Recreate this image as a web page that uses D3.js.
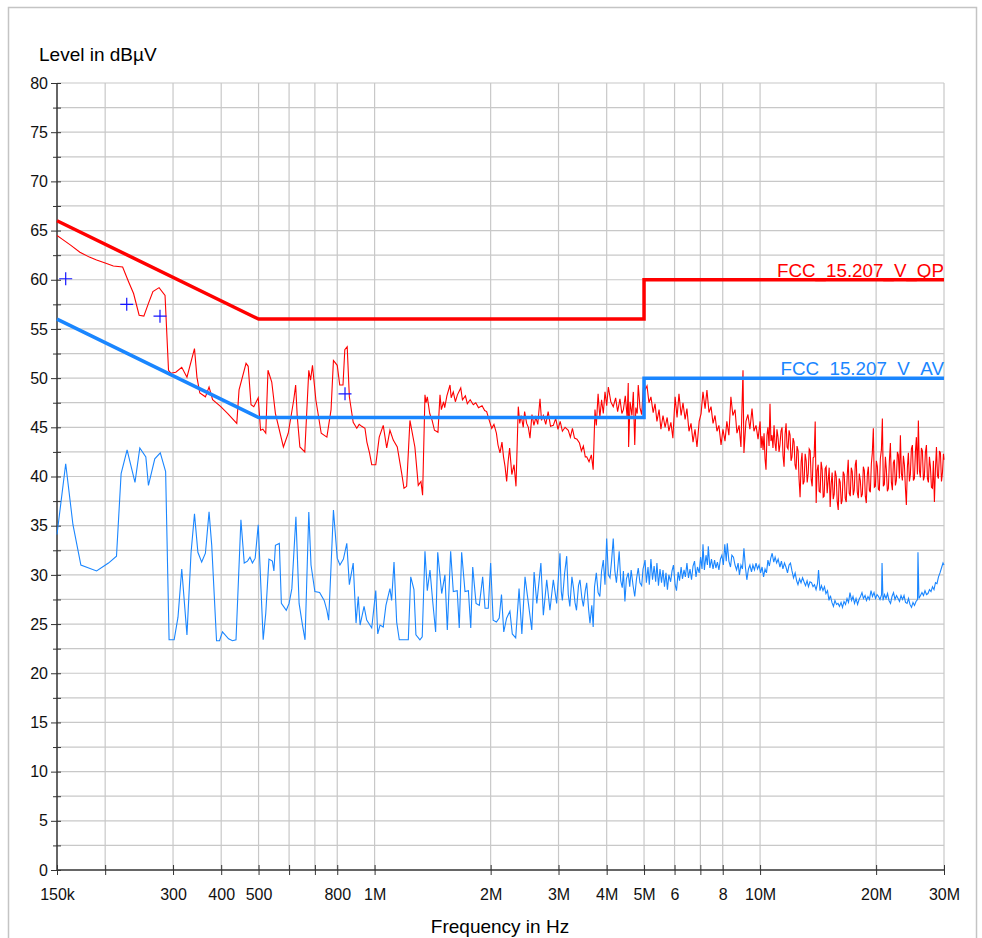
<!DOCTYPE html>
<html>
<head>
<meta charset="utf-8">
<script src="https://cdn.jsdelivr.net/npm/d3@7/dist/d3.min.js"></script>
<style>
body { margin: 0; background: #fff; }
svg { font-family: "Liberation Sans", Arial, sans-serif; }
.grid line { stroke: #c8c8c8; stroke-width: 1.2; }
.axis path, .axis line { stroke: #333; }
.axis text { font-size: 16px; fill: #111; }
</style>
</head>
<body>
<script>
// frequency axis (MHz)
var freqTicks = [0.15, 0.2, 0.3, 0.4, 0.5, 0.6, 0.7, 0.8, 1, 2, 3, 4, 5, 6, 7, 8, 10, 20, 30];
var freqLabels = ["150k", "", "300", "400", "500", "", "", "800", "1M", "2M", "3M", "4M", "5M", "6", "", "8", "10M", "20M", "30M"];
var levelTicks = [0, 5, 10, 15, 20, 25, 30, 35, 40, 45, 50, 55, 60, 65, 70, 75, 80];
var levelMinor = [2.5, 7.5, 12.5, 17.5, 22.5, 27.5, 32.5, 37.5, 42.5, 47.5, 52.5, 57.5, 62.5, 67.5, 72.5, 77.5];

// limit lines [MHz, dBuV]
var qpLimit = [[0.15, 66], [0.5, 56], [5, 56], [5, 60], [30, 60]];
var avLimit = [[0.15, 56], [0.5, 46], [5, 46], [5, 50], [30, 50]];

// final QP measurements
var qpFinal = [[0.158, 60.1], [0.2275, 57.5], [0.2775, 56.3], [0.838, 48.4]];

// quasi-peak preview trace
var qpTrace = [
[0.150,64.5],[0.155,64.1],[0.163,63.5],[0.172,62.8],[0.182,62.3],[0.190,62.0],[0.200,61.7],[0.210,61.4],[0.222,61.3],[0.230,59.8],[0.237,58.6],[0.245,56.4],[0.252,56.3],[0.259,57.6],[0.266,58.8],[0.276,59.2],[0.286,58.4],
[0.292,50.8],[0.296,50.5],[0.305,50.6],[0.316,51.1],[0.326,50.1],[0.341,53.0],[0.346,50.1],[0.352,48.5],[0.364,48.1],[0.372,49.1],[0.380,47.8],[0.399,47.1],[0.416,46.4],[0.439,45.4],[0.445,48.8],[0.464,51.5],[0.470,51.2],[0.478,47.3],[0.486,47.1],[0.499,48.0],[0.506,44.7],[0.513,44.8],[0.522,44.4],[0.529,50.8],[0.541,49.6],[0.553,46.4],[0.580,43.0],[0.597,44.4],[0.617,47.8],[0.624,49.3],[0.630,46.1],[0.640,43.0],[0.659,42.5],[0.675,50.8],[0.682,49.8],[0.690,51.3],[0.704,47.8],[0.727,44.4],[0.752,44.0],[0.771,46.8],[0.782,51.8],[0.800,51.3],[0.812,49.3],[0.828,49.3],[0.837,52.9],[0.849,53.2],[0.860,48.1],[0.880,45.5],[0.899,44.9],[0.912,45.3],[0.926,45.1],[0.944,44.9],[0.955,43.5],[0.970,42.4],[0.983,41.2],
[1.007,41.2],[1.028,44.0],[1.053,45.2],[1.075,42.9],[1.096,44.7],[1.118,43.7],[1.145,43.0],[1.176,40.3],[1.192,38.8],[1.211,39.0],[1.235,45.7],[1.272,43.0],[1.298,39.1],[1.319,39.5],[1.332,38.1],
[1.351,48.3],[1.36,47.5],[1.37,48.1],[1.39,46.4],[1.41,45.7],[1.43,44.7],[1.46,44.5],[1.478,48.3],[1.49,46.8],[1.51,47.6],[1.52,47.0],[1.54,48.2],[1.569,49.3],[1.58,48.0],[1.60,48.6],[1.62,47.6],[1.64,48.3],[1.673,49.0],[1.69,47.8],[1.72,48.2],[1.74,47.4],[1.77,47.8],[1.803,47.3],[1.83,47.5],[1.86,47.0],[1.90,47.2],[1.93,46.7],[1.953,46.6],[1.98,45.8],
[2.013,44.9],[2.04,45.3],[2.07,44.4],[2.09,43.2],[2.115,42.4],[2.14,43.5],[2.16,42.0],[2.18,41.0],[2.201,39.5],[2.22,41.5],[2.24,42.9],[2.27,40.2],[2.30,41.2],[2.327,39.0],[2.359,47.1],[2.38,45.4],[2.40,46.2],[2.43,45.0],[2.45,46.6],[2.48,45.4],[2.505,45.0],[2.53,43.9],[2.56,46.3],[2.59,45.2],[2.62,46.0],[2.65,45.3],[2.686,47.9],[2.71,45.7],[2.74,46.2],[2.78,45.3],[2.82,46.6],[2.86,45.1],[2.908,45.2],[2.95,45.9],[2.99,44.8],
[3.03,45.6],[3.07,44.6],[3.12,45.0],[3.18,44.7],[3.22,44.0],[3.26,44.9],[3.30,43.9],[3.35,43.8],[3.40,43.4],[3.44,42.6],[3.48,43.1],[3.52,42.0],[3.55,42.0],[3.60,41.5],[3.65,42.2],[3.69,40.7],[3.73,46.8],[3.76,45.2],[3.80,48.4],[3.84,46.0],[3.88,47.8],[3.92,46.4],[3.96,48.6],
[4.00,47.2],[4.04,49.1],[4.10,47.6],[4.16,47.1],[4.22,48.0],[4.27,46.6],[4.33,47.9],[4.38,46.4],[4.42,46.8],[4.47,48.2],[4.52,46.0],[4.55,49.5],[4.56,43.0],[4.60,47.6],[4.65,46.2],[4.69,48.6],[4.73,43.2],[4.76,47.0],[4.80,46.4],[4.83,49.3],[4.88,47.0],[4.93,46.3],[4.97,48.5],[5.00,49.8],
[5.03,48.8],[5.09,49.2],[5.15,47.5],[5.21,48.1],[5.28,46.5],[5.34,47.4],[5.40,45.6],[5.47,46.8],[5.53,44.8],[5.60,46.2],[5.67,45.0],[5.74,46.0],[5.80,44.6],[5.87,45.5],[5.94,43.9],
[6.02,48.1],[6.09,46.0],[6.16,48.4],[6.24,46.2],[6.31,47.5],[6.39,45.8],[6.46,46.9],[6.54,44.6],[6.62,45.4],[6.70,43.5],[6.78,44.8],[6.86,43.0],[6.95,45.6],
[7.03,46.4],[7.11,48.6],[7.20,46.9],[7.28,48.8],[7.37,46.5],[7.46,47.1],[7.55,45.4],[7.64,46.2],[7.73,44.6],[7.82,45.2],[7.92,43.2],
[8.01,44.8],[8.11,43.6],[8.20,45.6],[8.30,44.2],[8.40,48.1],[8.50,46.2],[8.61,46.8],[8.71,44.4],[8.82,45.2],[8.92,43.0],
[9.03,50.8],[9.08,42.4],[9.19,45.6],[9.30,46.3],[9.41,44.8],[9.53,46.9],[9.64,44.6],[9.76,45.2],[9.88,43.8],
[10.00,45.6],[10.06,42.9],[10.12,44.1],[10.18,42.7],[10.24,44.4],[10.30,41.8],[10.36,40.7],[10.42,44.2],[10.48,45.0],[10.55,43.1],[10.61,47.4],[10.67,43.6],[10.74,44.2],[10.80,42.9],[10.87,45.2],[10.93,43.4],[11.00,42.6],[11.06,44.8],[11.13,44.0],[11.20,42.5],
[11.26,43.2],[11.33,44.6],[11.40,45.0],[11.47,42.1],[11.54,41.0],[11.61,44.3],[11.68,45.4],[11.75,43.0],[11.82,42.8],[11.89,44.7],[11.96,44.2],[12.03,41.6],[12.10,42.0],[12.18,43.9],[12.25,43.5],[12.32,41.2],[12.40,40.7],[12.47,43.1],[12.55,42.6],[12.62,39.8],
[12.70,37.9],[12.78,41.5],[12.85,42.4],[12.93,39.2],[13.01,39.5],[13.09,42.3],[13.17,41.6],[13.25,39.4],[13.33,40.3],[13.41,42.8],[13.49,42.6],[13.57,39.7],[13.65,39.0],[13.73,41.9],[13.81,42.0],[13.90,45.6],[13.98,37.3],[14.06,40.6],[14.15,41.2],[14.23,38.5],
[14.32,38.4],[14.40,41.5],[14.49,40.7],[14.58,37.9],[14.66,38.0],[14.75,40.8],[14.84,41.0],[14.93,38.3],[15.02,39.6],[15.11,40.9],[15.20,36.9],[15.29,39.2],[15.38,40.4],[15.48,37.7],[15.57,38.2],[15.66,40.6],[15.76,40.0],[15.85,37.5],[15.95,36.6],[16.04,39.8],
[16.14,39.4],[16.24,37.2],[16.33,37.6],[16.43,40.5],[16.53,40.2],[16.63,37.8],[16.73,37.4],[16.83,40.1],[16.93,41.7],[17.03,38.3],[17.14,38.0],[17.24,40.9],[17.34,40.5],[17.45,38.1],[17.55,38.6],[17.66,41.2],[17.76,41.7],[17.87,38.4],[17.98,37.8],[18.09,40.3],
[18.20,39.6],[18.31,37.9],[18.42,38.2],[18.53,41.0],[18.64,40.6],[18.75,38.0],[18.86,37.3],[18.98,40.2],[19.09,41.0],[19.21,38.6],[19.32,38.4],[19.44,41.3],[19.55,42.4],[19.67,44.9],[19.79,38.9],[19.91,39.0],[20.03,41.6],[20.15,41.0],[20.27,38.7],[20.39,38.6],
[20.51,41.8],[20.64,42.7],[20.76,45.9],[20.88,39.0],[21.01,39.2],[21.14,42.0],[21.26,40.7],[21.39,38.5],[21.52,38.8],[21.65,41.6],[21.78,43.4],[21.91,39.4],[22.04,38.6],[22.17,41.4],[22.30,41.7],[22.44,39.1],[22.57,39.6],[22.71,42.5],[22.84,42.2],[22.98,39.8],
[23.12,44.2],[23.26,40.3],[23.40,39.6],[23.54,42.1],[23.68,41.2],[23.82,38.9],[23.96,37.1],[24.11,41.0],[24.25,42.4],[24.40,39.5],[24.54,40.2],[24.69,42.8],[24.84,43.2],[24.99,39.6],[25.14,39.8],[25.29,42.5],[25.44,44.0],[25.59,40.2],[25.74,45.7],[25.90,40.6],
[26.05,39.9],[26.21,42.9],[26.37,42.6],[26.53,39.6],[26.68,40.0],[26.84,42.4],[27.01,43.2],[27.17,39.8],[27.33,39.4],[27.50,42.0],[27.66,41.0],[27.83,38.9],[28.00,38.8],[28.16,41.6],[28.33,37.4],[28.50,40.7],[28.68,43.0],[28.85,40.1],[29.02,39.8],[29.20,42.6],
[29.37,42.4],[29.55,39.5],[29.73,40.4],[29.90,42.3],[30.0,41.7]
];

// average preview trace
var avTrace = [
[0.150,34.1],[0.158,41.3],[0.165,35.1],[0.173,31.0],[0.190,30.4],[0.204,31.2],[0.214,31.9],[0.220,40.3],[0.228,42.7],[0.239,39.4],[0.246,42.9],[0.255,42.0],[0.259,39.1],[0.269,41.8],[0.278,42.4],[0.287,40.5],
[0.293,23.4],[0.302,23.4],[0.309,25.7],[0.316,30.6],[0.326,23.9],[0.334,32.2],[0.341,36.2],[0.348,32.3],[0.356,31.3],[0.364,32.2],[0.372,36.4],[0.378,33.0],[0.389,23.3],[0.396,23.3],[0.403,24.2],[0.418,23.5],[0.428,23.3],[0.437,23.4],[0.450,35.6],[0.459,31.2],[0.468,31.4],[0.475,31.8],[0.482,31.2],[0.490,31.7],[0.499,35.1],
[0.514,23.4],[0.522,26.1],[0.532,31.6],[0.543,31.4],[0.548,30.4],[0.553,33.0],[0.566,33.2],[0.573,27.1],[0.590,26.4],[0.600,27.1],[0.610,28.6],[0.625,35.9],[0.637,27.1],[0.650,24.9],[0.660,23.4],[0.675,36.4],[0.684,31.0],[0.700,28.3],[0.720,28.2],[0.740,27.4],[0.752,26.4],[0.760,25.4],[0.770,30.4],[0.782,36.6],[0.800,31.7],
[0.813,31.0],[0.830,31.6],[0.847,33.2],[0.860,29.0],[0.880,31.2],[0.895,25.1],[0.907,27.8],[0.917,24.9],[0.939,26.8],[0.954,25.4],[0.983,24.6],
[1.007,28.4],[1.019,24.0],[1.033,24.9],[1.053,24.7],[1.070,26.9],[1.096,28.6],[1.107,27.4],[1.123,31.3],[1.141,25.2],[1.159,23.4],[1.223,23.4],[1.241,29.8],[1.265,28.5],[1.280,23.9],[1.311,23.4],[1.329,23.7],[1.351,32.4],[1.370,28.4],[1.392,30.5],[1.415,27.3],[1.440,24.2],[1.458,32.3],[1.493,28.1],[1.522,30.0],[1.544,24.4],[1.575,32.4],[1.600,28.3],[1.638,28.4],[1.658,24.6],[1.682,32.3],[1.716,28.3],[1.751,28.4],[1.776,24.6],[1.797,30.8],[1.833,27.1],[1.869,26.9],[1.907,29.8],[1.934,26.6],[1.972,26.6],
[2.000,31.2],[2.030,25.4],[2.070,25.2],[2.105,25.6],[2.134,28.0],[2.163,24.2],[2.200,25.6],[2.244,26.3],[2.276,24.0],[2.323,23.6],[2.370,28.6],[2.410,24.0],[2.456,29.8],[2.506,27.1],[2.557,24.4],[2.593,30.3],[2.635,27.1],[2.700,31.2],[2.740,25.9],[2.796,29.5],[2.850,26.4],[2.908,29.5],[2.967,27.1],
[3.026,32.2],[3.05,28.3],[3.07,27.4],[3.11,30.1],[3.15,31.9],[3.18,28.0],[3.21,26.8],[3.25,29.8],[3.28,28.7],[3.31,27.2],[3.34,26.4],[3.38,28.9],[3.41,29.5],[3.45,27.6],[3.48,26.8],[3.52,28.4],[3.55,29.2],[3.59,26.5],[3.62,25.1],[3.66,26.9],[3.69,24.7],[3.72,28.8],[3.76,30.2],[3.80,28.2],[3.84,27.8],[3.88,30.4],[3.92,31.5],[3.96,29.0],
[4.00,33.7],[4.04,30.0],[4.08,29.7],[4.12,31.5],[4.16,33.7],[4.20,30.4],[4.24,29.2],[4.28,31.0],[4.31,32.4],[4.35,29.4],[4.39,28.7],[4.42,30.4],[4.46,27.3],[4.50,29.6],[4.55,30.2],[4.59,28.8],[4.63,30.5],[4.68,29.0],[4.73,27.8],[4.78,29.6],[4.83,30.7],[4.88,29.2],[4.93,28.9],[4.97,30.6],[5.00,31.0],
[5.03,31.5],[5.07,29.2],[5.12,30.8],[5.16,29.0],[5.21,31.6],[5.26,29.5],[5.31,30.9],[5.36,29.3],[5.40,31.2],[5.45,28.9],[5.50,30.6],[5.55,29.2],[5.60,30.5],[5.65,28.8],[5.70,30.2],[5.75,28.5],[5.80,30.0],[5.86,29.3],[5.91,30.4],[5.96,31.0],
[6.02,29.0],[6.07,28.4],[6.13,30.3],[6.18,29.4],[6.24,30.8],[6.29,29.6],[6.35,30.5],[6.40,29.8],[6.46,31.2],[6.52,29.7],[6.58,30.6],[6.64,29.5],[6.70,30.9],[6.76,31.4],[6.82,29.8],[6.88,30.8],[6.95,30.2],
[7.01,31.8],[7.07,30.6],[7.11,33.1],[7.17,30.5],[7.24,32.0],[7.30,31.0],[7.34,32.9],[7.41,30.7],[7.48,31.6],[7.55,30.6],[7.62,31.5],[7.68,30.7],[7.75,31.3],[7.82,30.5],[7.89,31.6],[7.96,32.0],
[8.03,31.0],[8.10,33.1],[8.17,31.4],[8.22,33.2],[8.30,31.4],[8.38,30.8],[8.45,32.0],[8.53,31.8],[8.61,31.0],[8.69,30.5],[8.77,31.2],[8.84,30.0],[8.92,31.0],
[9.00,30.6],[9.08,32.7],[9.16,30.8],[9.24,29.5],[9.33,30.6],[9.41,31.0],[9.50,30.3],[9.58,31.0],[9.67,30.5],[9.76,31.2],[9.85,30.6],[9.94,31.0],
[10.03,30.2],[10.12,30.8],[10.21,29.8],[10.30,30.6],[10.39,30.2],[10.48,31.5],[10.57,30.9],[10.66,31.7],[10.75,32.2],[10.85,31.3],[10.94,31.8],[11.04,31.2],[11.14,31.6],[11.26,30.8],[11.36,31.4],[11.46,30.6],[11.57,31.2],[11.67,30.8],[11.78,30.2],[11.89,31.0],[11.99,31.2],
[12.10,30.4],[12.21,29.7],[12.33,30.2],[12.44,29.4],[12.54,29.0],[12.66,29.6],[12.77,29.2],[12.89,29.7],[13.00,29.3],[13.12,28.9],[13.24,29.4],[13.35,28.8],[13.47,29.3],[13.60,29.2],[13.72,28.8],[13.84,29.0],[13.97,28.5],
[14.09,29.1],[14.18,30.5],[14.30,28.4],[14.43,28.9],[14.56,28.4],[14.69,28.8],[14.82,28.1],[14.96,28.4],[15.09,27.4],[15.22,27.9],[15.36,27.2],[15.50,26.8],[15.64,27.4],[15.79,27.0],[15.93,27.1],[16.07,26.8],[16.22,27.2],[16.36,26.7],[16.51,27.3],[16.66,27.0],[16.81,27.6],[16.96,27.2],
[17.11,28.2],[17.27,27.4],[17.42,27.8],[17.58,27.1],[17.74,27.6],[17.90,27.0],[18.06,27.5],[18.22,27.8],[18.38,28.2],[18.54,27.6],[18.72,27.9],[18.88,27.4],[19.05,27.8],[19.22,27.5],[19.40,28.4],[19.57,27.8],[19.75,28.2],[19.93,27.6],
[20.11,28.0],[20.29,27.8],[20.47,27.5],[20.66,28.0],[20.72,31.2],[20.84,27.4],[21.03,28.0],[21.22,27.6],[21.41,28.1],[21.60,27.4],[21.80,27.1],[21.99,27.8],[22.19,28.2],[22.39,27.5],[22.59,27.9],[22.80,27.6],[23.00,27.3],[23.21,27.9],[23.42,27.5],[23.63,27.9],[23.84,27.2],
[24.06,27.1],[24.27,27.6],[24.48,27.0],[24.71,26.7],[24.93,27.2],[25.15,26.9],[25.38,27.3],[25.61,27.5],[25.68,32.3],[25.83,27.6],[26.07,27.9],[26.30,28.2],[26.54,27.9],[26.78,28.4],[27.02,28.0],[27.26,28.1],[27.51,28.5],[27.76,28.3],
[28.01,28.8],[28.26,28.5],[28.51,29.2],[28.77,29.1],[29.03,29.8],[29.29,30.2],[29.55,30.7],[29.82,31.2],[30.0,31.0]
];

var qpColor = "#ff0000",
    avColor = "#1a86ff";

var width = 982,
    height = 938;

var svg = d3.select("body")
    .append("svg")
    .attr("width", width)
    .attr("height", height);

// outer frame
svg.append("rect")
    .attr("x", 8.5).attr("y", 7.5)
    .attr("width", 968).attr("height", 940)
    .attr("fill", "#fff")
    .attr("stroke", "#c4c4c4")
    .attr("stroke-width", 1.5);

var x = d3.scaleLog()
    .domain([0.15, 30])
    .range([57, 944]);

var y = d3.scaleLinear()
    .domain([0, 80])
    .range([870, 83]);

// grid lines
svg.append("g")
    .attr("class", "grid")
    .selectAll("line")
    .data(levelTicks.concat(levelMinor).filter(function(d){ return d > 0; }))
    .enter()
    .append("line")
    .attr("x1", x(0.15)).attr("x2", x(30))
    .attr("y1", function(d){ return y(d); })
    .attr("y2", function(d){ return y(d); });

svg.append("g")
    .attr("class", "grid")
    .selectAll("line")
    .data(freqTicks.slice(1))
    .enter()
    .append("line")
    .attr("x1", function(d){ return x(d); })
    .attr("x2", function(d){ return x(d); })
    .attr("y1", y(0)).attr("y2", y(80));

// y axis
var yAxis = svg.append("g")
    .attr("class", "axis")
    .attr("transform", "translate(" + x(0.15) + ",0)")
    .call(d3.axisLeft(y).tickValues(levelTicks).tickSize(6).tickPadding(3));
yAxis.selectAll(".tick line").attr("x2", -6).attr("x1", 4);
yAxis.select(".domain").attr("stroke-width", 1.5).attr("d", "M0," + y(0) + "V" + y(80));

var yMinor = svg.append("g")
    .attr("class", "axis")
    .attr("transform", "translate(" + x(0.15) + ",0)")
    .call(d3.axisLeft(y).tickValues(levelMinor).tickSize(4).tickFormat(""));
yMinor.select(".domain").remove();
yMinor.selectAll(".tick line").attr("x2", -4).attr("x1", 4);

// x axis
var xAxis = svg.append("g")
    .attr("class", "axis")
    .attr("transform", "translate(0," + y(0) + ")")
    .call(d3.axisBottom(x)
        .tickValues(freqTicks)
        .tickSize(5)
        .tickPadding(14)
        .tickFormat(function(d, i){ return freqLabels[i]; }));
xAxis.selectAll(".tick line").attr("y1", -5).attr("y2", 5);
xAxis.select(".domain").attr("stroke-width", 1.5).attr("d", "M" + x(0.15) + ",0H" + x(30));

// axis titles
svg.append("text")
    .attr("x", 39).attr("y", 61)
    .attr("font-size", 19)
    .text("Level in dBµV");

svg.append("text")
    .attr("x", 500).attr("y", 933)
    .attr("text-anchor", "middle")
    .attr("font-size", 19)
    .text("Frequency in Hz");

var line = d3.line()
    .x(function(d){ return x(d[0]); })
    .y(function(d){ return y(d[1]); });

// measured traces
svg.append("path")
    .datum(avTrace)
    .attr("fill", "none")
    .attr("stroke", avColor)
    .attr("stroke-width", 1.1)
    .attr("d", line);

svg.append("path")
    .datum(qpTrace)
    .attr("fill", "none")
    .attr("stroke", qpColor)
    .attr("stroke-width", 1.1)
    .attr("d", line);

// limit lines
svg.append("path")
    .datum(qpLimit)
    .attr("fill", "none")
    .attr("stroke", qpColor)
    .attr("stroke-width", 3.5)
    .attr("d", line);

svg.append("path")
    .datum(avLimit)
    .attr("fill", "none")
    .attr("stroke", avColor)
    .attr("stroke-width", 3.5)
    .attr("d", line);

// limit labels
svg.append("text")
    .attr("x", x(30)).attr("y", y(60) - 3)
    .attr("text-anchor", "end")
    .attr("font-size", 18.8)
    .attr("fill", qpColor)
    .text("FCC_15.207_V_QP");

svg.append("text")
    .attr("x", x(30)).attr("y", y(50) - 3)
    .attr("text-anchor", "end")
    .attr("font-size", 18.8)
    .attr("fill", avColor)
    .text("FCC_15.207_V_AV");

// final measurement markers
svg.selectAll(".final")
    .data(qpFinal)
    .enter()
    .append("path")
    .attr("class", "final")
    .attr("transform", function(d){ return "translate(" + x(d[0]) + "," + y(d[1]) + ")"; })
    .attr("d", "M-6.5,0H6.5M0,-6.5V6.5")
    .attr("stroke", "#1414ff")
    .attr("stroke-width", 1.2);
</script>
</body>
</html>
